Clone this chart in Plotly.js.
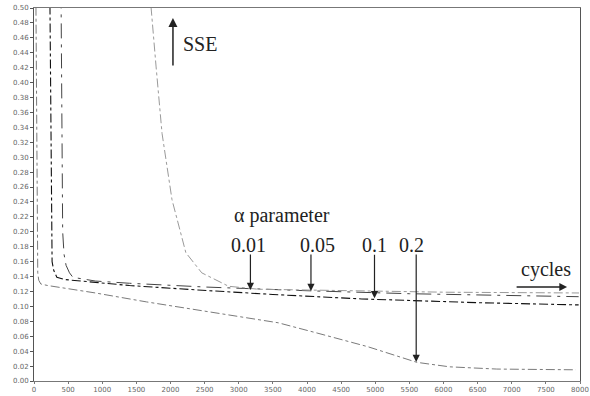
<!DOCTYPE html>
<html><head><meta charset="utf-8">
<script src="https://cdn.plot.ly/plotly-3.0.1.min.js"></script>
<style>html,body{margin:0;padding:0;background:#fff}#c{width:590px;height:396px}</style>
</head><body><div id="c"></div>
<script>
// alpha = 0.2
const cyc02 = [25, 35, 45, 55, 70, 100, 200, 420, 900, 1650, 2130, 2850, 3580, 4160, 4890, 5610, 6090, 6780, 7940];
const sse02 = [0.55, 0.35, 0.2, 0.145, 0.135, 0.130, 0.128, 0.125, 0.118, 0.106, 0.099, 0.088, 0.078, 0.064, 0.046, 0.025, 0.019, 0.016, 0.015];
// alpha = 0.1
const cyc01 = [225, 235, 245, 255, 265, 290, 335, 450, 700, 1400, 2400, 3500, 4800, 6500, 7980];
const sse01 = [0.6, 0.45, 0.3, 0.2, 0.16, 0.148, 0.139, 0.136, 0.134, 0.128, 0.122, 0.116, 0.110, 0.105, 0.102];
// alpha = 0.05
const cyc005 = [390, 400, 410, 420, 440, 470, 520, 570, 700, 900, 1400, 2500, 4000, 5500, 7980];
const sse005 = [0.6, 0.45, 0.33, 0.2, 0.17, 0.155, 0.145, 0.139, 0.137, 0.134, 0.131, 0.126, 0.121, 0.117, 0.113];
// alpha = 0.01
const cyc001 = [1700, 1716, 1789, 1876, 2022, 2225, 2458, 2851, 3287, 4596, 6051, 7985];
const sse001 = [0.55, 0.50, 0.421, 0.332, 0.243, 0.172, 0.145, 0.127, 0.123, 0.121, 0.119, 0.118];

const xTicks = [0,500,1000,1500,2000,2500,3000,3500,4000,4500,5000,5500,6000,6500,7000,7500,8000];

const serif = {family: 'Times New Roman, Liberation Serif, serif', size: 20, color: '#222'};
const traces = [
  {x: cyc02, y: sse02, mode: 'lines', line: {color: '#7a7a7a', width: 1, dash: 'dashdot'}},
  {x: cyc01, y: sse01, mode: 'lines', line: {color: '#111', width: 1.1, dash: 'dashdot'}},
  {x: cyc005, y: sse005, mode: 'lines', line: {color: '#444', width: 1, dash: 'longdashdot'}},
  {x: cyc001, y: sse001, mode: 'lines', line: {color: '#9a9a9a', width: 1, dash: 'dashdot'}}
];
function arrowDown(x, y, ay){return {x:x, y:y, xref:'x', yref:'y', text:'', showarrow:true, ax:0, ay:ay, arrowhead:2, arrowsize:1.2, arrowwidth:1.2, arrowcolor:'#222'};}
function label(x, y, t){return {x:x, y:y, xref:'x', yref:'y', text:t, showarrow:false, font:serif};}
const layout = {
  width: 590, height: 396,
  margin: {l: 34, r: 10, t: 8, b: 15},
  paper_bgcolor: '#fff', plot_bgcolor: '#fff',
  showlegend: false,
  xaxis: {range: [0, 8000], tickvals: xTicks, ticktext: xTicks.map(String), showgrid: false, zeroline: false,
    showline: true, mirror: true, linecolor: '#777', linewidth: 1, ticks: 'outside', ticklen: 2, tickcolor: '#777',
    tickfont: {family: 'DejaVu Sans', size: 7, color: '#666'}},
  yaxis: {range: [0, 0.5], dtick: 0.02, tickformat: '.2f', showgrid: false, zeroline: false,
    showline: true, mirror: true, linecolor: '#555', linewidth: 1, ticks: 'outside', ticklen: 3, tickcolor: '#555',
    tickfont: {family: 'DejaVu Sans', size: 7, color: '#666'}},
  annotations: [
    {x: 2036, y: 0.4866, xref:'x', yref:'y', text:'', showarrow:true, ax:0, ay:49, arrowhead:2, arrowsize:1.2, arrowwidth:1.5, arrowcolor:'#222'},
    label(2429, 0.452, 'SSE'),
    label(3636, 0.2225, 'α parameter'),
    label(3142, 0.1823, '0.01'),
    label(4160, 0.1823, '0.05'),
    label(4989, 0.1823, '0.1'),
    label(5527, 0.1823, '0.2'),
    arrowDown(3171, 0.122, -37),
    arrowDown(4058, 0.1206, -38),
    arrowDown(4989, 0.111, -45),
    arrowDown(5600, 0.0255, -109),
    label(7505, 0.149, 'cycles'),
    {x: 7811, y: 0.126, xref:'x', yref:'y', text:'', showarrow:true, ax:-52, ay:0, arrowhead:2, arrowsize:1.2, arrowwidth:1.3, arrowcolor:'#222'}
  ]
};
Plotly.newPlot('c', traces, layout, {displayModeBar: false, staticPlot: true});
</script></body></html>
